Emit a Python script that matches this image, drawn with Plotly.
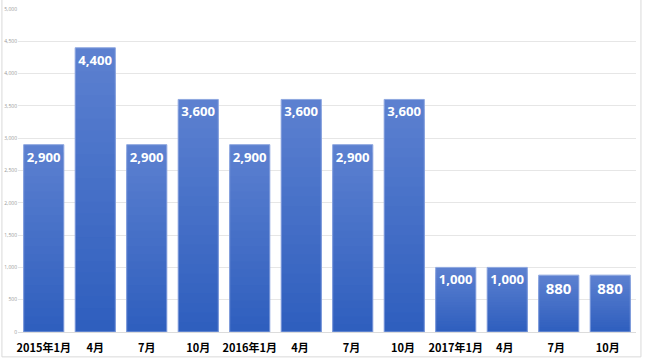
import plotly.graph_objects as go

categories = ["2015年1月", "4月", "7月", "10月", "2016年1月", "4月 ", "7月 ", "10月 ",
              "2017年1月", "4月  ", "7月  ", "10月  "]
values = [2900, 4400, 2900, 3600, 2900, 3600, 2900, 3600, 1000, 1000, 880, 880]
y_ticks = [0, 500, 1000, 1500, 2000, 2500, 3000, 3500, 4000, 4500, 5000]

top_rgb = (92, 128, 208)
bottom_rgb = (47, 95, 190)
steps = 24

fig = go.Figure()
# gradient fill: stacked overlay of shrinking bars (each bar scaled from its own value)
for i in range(steps):
    f = 1 - i / steps
    t = i / (steps - 1)
    c = tuple(round(top_rgb[k] + (bottom_rgb[k] - top_rgb[k]) * t) for k in range(3))
    fig.add_trace(go.Bar(
        x=categories, y=[v * f for v in values],
        marker=dict(color=f"rgb{c}", line=dict(width=0)),
        hoverinfo="skip",
    ))
# outline + labels
fig.add_trace(go.Bar(
    x=categories, y=values,
    marker=dict(color="rgba(0,0,0,0)", line=dict(color="#8fa8e0", width=1)),
    text=[f"{v:,}" for v in values],
    textposition="inside", insidetextanchor="end",
    textfont=dict(family="Open Sans", size=15, color="white", weight="bold"),
    textangle=0,
    cliponaxis=False,
))
fig.update_layout(
    width=646, height=361,
    margin=dict(l=18, r=10, t=9, b=29, autoexpand=False),
    paper_bgcolor="white", plot_bgcolor="white",
    barmode="overlay",
    bargap=0.22,
    showlegend=False,
    xaxis=dict(tickfont=dict(family="Noto Sans CJK JP", size=11, color="black", weight="bold"),
               showgrid=False, showline=True, linecolor="#dcdcdc", ticks="",
               automargin=False, ticklabelstandoff=6),
    yaxis=dict(range=[0, 5000], tickvals=y_ticks, tickformat=",",
               tickfont=dict(family="Open Sans", size=5, color="#999999"),
               gridcolor="#e6e6e6", gridwidth=1, zeroline=False, ticks="",
               automargin=False),
    shapes=[dict(type="rect", xref="paper", yref="paper", x0=-0.026, x1=1.008,
                 y0=-0.077, y1=1.03, line=dict(color="#d9d9d9", width=1))],
)
fig.write_html("out.html", config={"displayModeBar": False},
               post_script="document.body.style.margin='0';document.body.style.overflow='hidden';")
